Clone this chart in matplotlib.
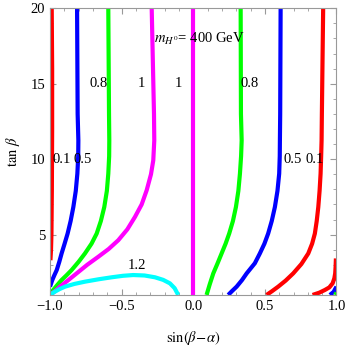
import matplotlib
matplotlib.use("Agg")
import matplotlib.pyplot as plt
from matplotlib.ticker import MultipleLocator

plt.rcParams['font.family'] = ['Liberation Serif', 'DejaVu Serif']
plt.rcParams['mathtext.fontset'] = 'stix'

# contour lines, (sin(beta-alpha), tan beta)
red_l_x = [-0.997, -0.993, -0.990, -0.987, -0.985, -0.985, -0.988]
red_l_y = [3.3, 4.0, 5.0, 8.0, 12.0, 16.0, 20.0]
red_r_x = [0.512, 0.55, 0.593, 0.645, 0.698, 0.755, 0.803, 0.83, 0.849, 0.862, 0.873, 0.882, 0.889, 0.893, 0.896, 0.898, 0.907]
red_r_y = [1.0, 1.25, 1.55, 1.95, 2.43, 3.05, 3.75, 4.4, 5.07, 5.9, 6.83, 7.9, 9.04, 10.2, 11.24, 13.0, 20.0]
red_c_x = [0.833, 0.880, 0.919, 0.950, 0.973, 0.985, 0.991, 0.994, 0.996]
red_c_y = [1.0, 1.15, 1.33, 1.5, 1.77, 2.1, 2.43, 2.9, 3.42]

blue_l_x = [-1.0, -0.984, -0.97, -0.953, -0.935, -0.919, -0.898, -0.877, -0.856, -0.837, -0.82, -0.809, -0.803, -0.802, -0.807, -0.811]
blue_l_y = [1.55, 1.99, 2.3, 2.65, 3.2, 3.75, 4.4, 5.07, 5.9, 6.83, 7.9, 9.04, 10.2, 11.24, 13.0, 20.0]
blue_r_x = [0.244, 0.27, 0.303, 0.34, 0.373, 0.43, 0.465, 0.497, 0.523, 0.548, 0.570, 0.588, 0.600, 0.604, 0.605, 0.607, 0.610]
blue_r_y = [1.0, 1.25, 1.55, 1.98, 2.43, 3.1, 3.75, 4.4, 5.07, 5.9, 6.83, 7.9, 9.04, 10.2, 11.24, 13.0, 20.0]
blue_c_x = [0.954, 0.980, 1.0]
blue_c_y = [1.0, 1.2, 1.55]

green_l_x = [-1.0, -0.977, -0.95, -0.919, -0.885, -0.849, -0.80, -0.756, -0.71, -0.674, -0.645, -0.621, -0.603, -0.593, -0.587, -0.586, -0.588, -0.593]
green_l_y = [1.1, 1.33, 1.65, 1.99, 2.3, 2.65, 3.2, 3.75, 4.4, 5.07, 5.9, 6.83, 7.9, 9.04, 10.2, 11.24, 13.0, 20.0]
green_r_x = [0.093, 0.115, 0.140, 0.17, 0.198, 0.226, 0.251, 0.277, 0.298, 0.315, 0.326, 0.334, 0.338, 0.333, 0.331]
green_r_y = [1.0, 1.7, 2.43, 3.1, 3.75, 4.4, 5.07, 5.9, 6.83, 7.9, 9.04, 10.2, 11.24, 13.0, 20.0]
green_c_x = [0.99, 1.0]
green_c_y = [1.0, 1.15]

mag_l_x = [-1.0, -0.965, -0.93, -0.87, -0.814, -0.74, -0.663, -0.59, -0.523, -0.46, -0.407, -0.36, -0.325, -0.295, -0.279, -0.272, -0.274, -0.290]
mag_l_y = [1.0, 1.25, 1.55, 2.0, 2.43, 3.0, 3.53, 4.05, 4.63, 5.35, 6.17, 7.0, 7.94, 9.0, 9.92, 11.24, 13.0, 20.0]
mag_c_x = [0.0, 0.0]
mag_c_y = [1.0, 20.0]

cyan_x = [-1.0, -0.985, -0.965, -0.935, -0.895, -0.83, -0.756, -0.66, -0.57, -0.49, -0.419, -0.34, -0.267, -0.21, -0.163, -0.13, -0.105]
cyan_y = [1.0, 1.1, 1.22, 1.38, 1.55, 1.73, 1.88, 2.04, 2.17, 2.27, 2.32, 2.29, 2.17, 2.0, 1.77, 1.45, 1.0]

# contour labels: text, x, y
labels = ["0.1", "0.5", "0.8", "1", "1", "0.8", "0.5", "0.1", "1.2"]
label_x = [-0.916, -0.770, -0.658, -0.360, -0.105, 0.396, 0.696, 0.849, -0.395]
label_y = [10, 10, 15, 15, 15, 15, 10, 10, 2.92]

xticks = [-1.0, -0.5, 0.0, 0.5, 1.0]
xticklabels = ["\u22121.0", "\u22120.5", "0.0", "0.5", "1.0"]
yticks = [5, 10, 15, 20]

fig = plt.figure(figsize=(3.46, 3.47), dpi=100)
ax = fig.add_axes([0.1445, 0.150, 0.828, 0.826])

lw = 3
for xs, ys in [(red_l_x, red_l_y), (red_r_x, red_r_y), (red_c_x, red_c_y)]:
  ax.plot(xs, ys, color=(1, 0, 0), lw=lw, solid_capstyle='butt')
for xs, ys in [(blue_l_x, blue_l_y), (blue_r_x, blue_r_y), (blue_c_x, blue_c_y)]:
  ax.plot(xs, ys, color=(0, 0, 1), lw=lw, solid_capstyle='butt')
for xs, ys in [(green_l_x, green_l_y), (green_r_x, green_r_y), (green_c_x, green_c_y)]:
  ax.plot(xs, ys, color=(0, 1, 0), lw=lw, solid_capstyle='butt')
for xs, ys in [(mag_l_x, mag_l_y), (mag_c_x, mag_c_y)]:
  ax.plot(xs, ys, color=(1, 0, 1), lw=lw, solid_capstyle='butt')
ax.plot(cyan_x, cyan_y, color=(0, 1, 1), lw=lw, solid_capstyle='butt')

for t, x, y in zip(labels, label_x, label_y):
  ax.text(x, y, t, fontsize=10.5, ha='center', va='center')

ax.text(0.04, 18.0, r"$m_{H^0}$= 400 GeV", fontsize=10.5, ha='center', va='center')

ax.set_xlim(-1, 1)
ax.set_ylim(1, 20)
ax.set_xticks(xticks, xticklabels)
ax.xaxis.set_minor_locator(MultipleLocator(0.1))
ax.set_yticks(yticks)
ax.yaxis.set_minor_locator(MultipleLocator(1))
ax.tick_params(which='both', direction='in', top=True, right=True, color='#999999', labelsize=10.5)
ax.tick_params(which='major', length=4)
ax.tick_params(which='minor', length=2.5)
for s in ax.spines.values():
  s.set_color('#999999')

ax.set_xlabel(r"$\sin(\beta\!-\!\alpha)$", fontsize=10.5, labelpad=12)
ax.set_ylabel(r"$\tan\,\beta$", fontsize=10.5, labelpad=6)

plt.savefig("out.png")
